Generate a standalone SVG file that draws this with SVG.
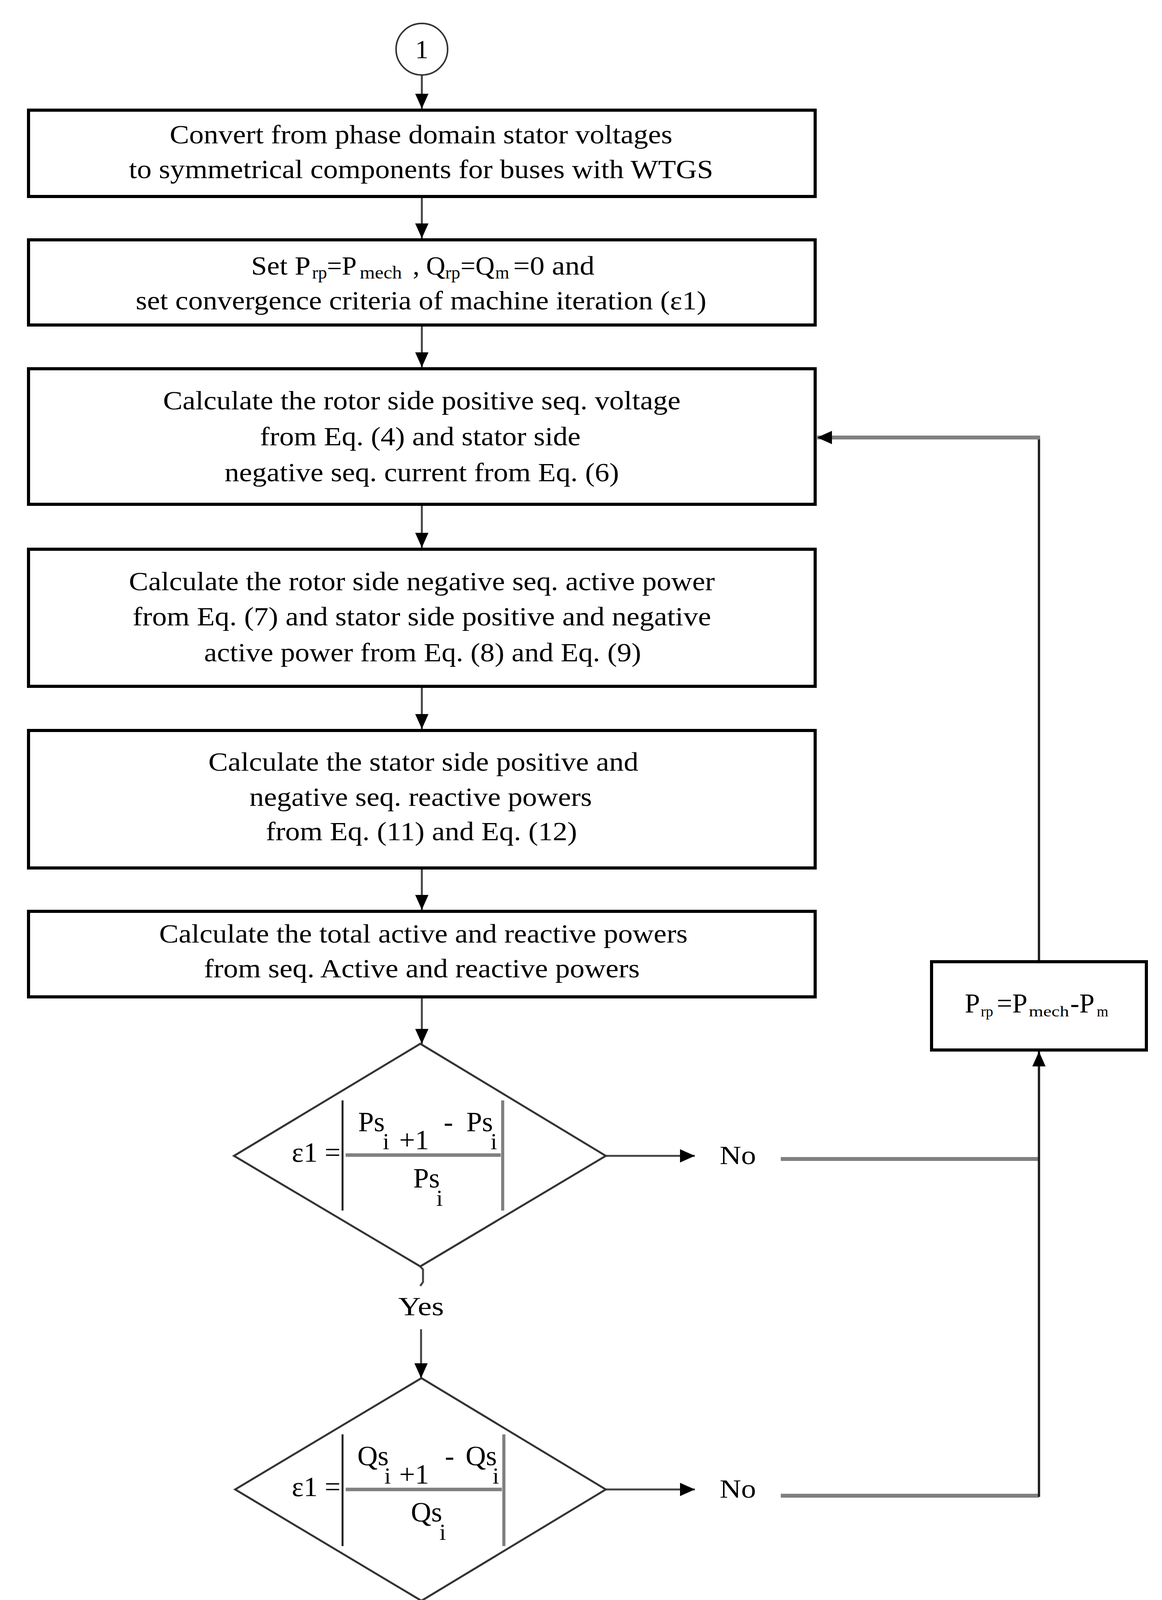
<svg xmlns="http://www.w3.org/2000/svg" width="2975" height="4846" viewBox="0 0 2975 4846">
<style>
text{font-family:"Liberation Serif","Times New Roman",serif;fill:#000}
.t{font-size:68px;text-anchor:middle}
.f{font-size:72px}
.fs{font-size:60px}
.sub{font-size:46px}
.sub2{font-size:38px}
.box{fill:#fff;stroke:#000;stroke-width:8}
.dia{fill:#fff;stroke:#333;stroke-width:5}
.circ{fill:#fff;stroke:#333;stroke-width:4}
.con{fill:none;stroke:#444;stroke-width:5}
.fb{fill:none;stroke:#808080;stroke-width:10}
.fv{fill:none;stroke:#222;stroke-width:6}
.bar{stroke:#222;stroke-width:5}
.bar2{stroke:#808080;stroke-width:8}
.frac{stroke:#808080;stroke-width:9}
</style>
<defs>
<marker id="ah" markerUnits="userSpaceOnUse" markerWidth="38" markerHeight="34" refX="38" refY="17" orient="auto">
<path d="M0,0 L38,17 L0,34 z" fill="#000"/>
</marker>
</defs>
<rect width="2975" height="4846" fill="#fff"/>

<g id="connectors">
<line class="con" x1="1080" y1="192" x2="1080" y2="278" marker-end="url(#ah)"/>
<line class="con" x1="1080" y1="503" x2="1080" y2="610" marker-end="url(#ah)"/>
<line class="con" x1="1080" y1="832" x2="1080" y2="940" marker-end="url(#ah)"/>
<line class="con" x1="1080" y1="1291" x2="1080" y2="1402" marker-end="url(#ah)"/>
<line class="con" x1="1080" y1="1757" x2="1080" y2="1866" marker-end="url(#ah)"/>
<line class="con" x1="1080" y1="2222" x2="1080" y2="2329" marker-end="url(#ah)"/>
<line class="con" x1="1080" y1="2552" x2="1080" y2="2672" marker-end="url(#ah)"/>
<polyline class="con" points="1076,3242 1083,3250 1083,3282 1076,3292"/>
<line class="con" x1="1078" y1="3403" x2="1078" y2="3528" marker-end="url(#ah)"/>
<line class="con" x1="1079" y1="4098" x2="1079" y2="4144"/>
<line class="con" x1="1079" y1="4254" x2="1079" y2="4365" marker-end="url(#ah)"/>
<line class="con" x1="1068" y1="4592" x2="1068" y2="4676" marker-end="url(#ah)"/>
<line class="con" stroke="#000" x1="1551" y1="2959" x2="1779" y2="2959" marker-end="url(#ah)"/>
<line class="con" stroke="#000" x1="1551" y1="3813" x2="1779" y2="3813" marker-end="url(#ah)"/>
<line class="fb" x1="1999" y1="2967" x2="2660" y2="2967"/>
<line class="fb" x1="1999" y1="3829" x2="2660" y2="3829"/>
<line class="fv" x1="2660" y1="3832" x2="2660" y2="2692" marker-end="url(#ah)"/>
<line class="fv" x1="2660" y1="2458" x2="2660" y2="1115"/>
<line class="fb" x1="2663" y1="1120" x2="2092" y2="1120" marker-end="url(#ah)"/>
</g>

<g id="start">
<circle class="circ" cx="1080" cy="126" r="66"/>
<text class="t" x="1080" y="149" font-size="70">1</text>
</g>

<g id="box1">
<rect class="box" x="73" y="282" width="2014" height="221"/>
<text class="t" x="1078" y="367" textLength="1287" lengthAdjust="spacingAndGlyphs">Convert from phase domain stator voltages</text>
<text class="t" x="1078" y="456" textLength="1496" lengthAdjust="spacingAndGlyphs">to symmetrical components for buses with WTGS</text>
</g>

<g id="box2">
<rect class="box" x="73" y="614" width="2014" height="218"/>
<text style="font-size:68px" y="703"><tspan x="643" textLength="152" lengthAdjust="spacingAndGlyphs">Set P</tspan><tspan class="sub" x="799" dy="10">rp</tspan><tspan x="837" dy="-10">=P</tspan><tspan class="sub" x="921" dy="10" textLength="108" lengthAdjust="spacingAndGlyphs">mech</tspan><tspan x="1040" dy="-10"> , Q</tspan><tspan class="sub" x="1140" dy="10">rp</tspan><tspan x="1179" dy="-10">=Q</tspan><tspan class="sub" x="1268" dy="10">m</tspan><tspan x="1314" dy="-10" textLength="208" lengthAdjust="spacingAndGlyphs">=0 and</tspan></text>
<text class="t" x="1078" y="792" textLength="1461" lengthAdjust="spacingAndGlyphs">set convergence criteria of machine iteration (ε1)</text>
</g>

<g id="box3">
<rect class="box" x="73" y="944" width="2014" height="347"/>
<text class="t" x="1080" y="1048" textLength="1325" lengthAdjust="spacingAndGlyphs">Calculate the rotor side positive seq. voltage</text>
<text class="t" x="1076" y="1140" textLength="821" lengthAdjust="spacingAndGlyphs">from Eq. (4) and stator side</text>
<text class="t" x="1080" y="1232" textLength="1010" lengthAdjust="spacingAndGlyphs">negative seq. current from Eq. (6)</text>
</g>

<g id="box4">
<rect class="box" x="73" y="1406" width="2014" height="351"/>
<text class="t" x="1080" y="1511" textLength="1500" lengthAdjust="spacingAndGlyphs">Calculate the rotor side negative seq. active power</text>
<text class="t" x="1080" y="1601" textLength="1481" lengthAdjust="spacingAndGlyphs">from Eq. (7) and stator side positive and negative</text>
<text class="t" x="1082" y="1693" textLength="1119" lengthAdjust="spacingAndGlyphs">active power from Eq. (8) and Eq. (9)</text>
</g>

<g id="box5">
<rect class="box" x="73" y="1870" width="2014" height="352"/>
<text class="t" x="1084" y="1973" textLength="1101" lengthAdjust="spacingAndGlyphs">Calculate the stator side positive and</text>
<text class="t" x="1077" y="2063" textLength="877" lengthAdjust="spacingAndGlyphs">negative seq. reactive powers</text>
<text class="t" x="1079" y="2151" textLength="797" lengthAdjust="spacingAndGlyphs">from Eq. (11) and Eq. (12)</text>
</g>

<g id="box6">
<rect class="box" x="73" y="2333" width="2014" height="219"/>
<text class="t" x="1084" y="2413" textLength="1353" lengthAdjust="spacingAndGlyphs">Calculate the total active and reactive powers</text>
<text class="t" x="1080" y="2502" textLength="1116" lengthAdjust="spacingAndGlyphs">from seq. Active and reactive powers</text>
</g>

<g id="decision1">
<polygon class="dia" points="1076,2672 1551,2959 1076,3242 599,2959"/>
<text class="f" x="747" y="2974">ε1 =</text>
<line class="bar" x1="877" y1="2817" x2="877" y2="3099"/>
<line class="bar2" x1="1287" y1="2817" x2="1287" y2="3099"/>
<line class="frac" x1="885" y1="2957" x2="1282" y2="2957"/>
<text class="f" x="917" y="2896">Ps</text>
<text class="fs" x="980" y="2942">i</text>
<text class="f" x="1022" y="2942">+1</text>
<text class="f" x="1136" y="2896">-</text>
<text class="f" x="1194" y="2896">Ps</text>
<text class="fs" x="1256" y="2942">i</text>
<text class="f" x="1058" y="3040">Ps</text>
<text class="fs" x="1117" y="3087">i</text>
</g>

<g id="decision2">
<polygon class="dia" points="1079,3528 1551,3813 1079,4098 602,3813"/>
<text class="f" x="747" y="3830">ε1 =</text>
<line class="bar" x1="877" y1="3672" x2="877" y2="3958"/>
<line class="bar2" x1="1290" y1="3672" x2="1290" y2="3958"/>
<line class="frac" x1="885" y1="3813" x2="1285" y2="3813"/>
<text class="f" x="915" y="3751">Qs</text>
<text class="fs" x="984" y="3798">i</text>
<text class="f" x="1022" y="3798">+1</text>
<text class="f" x="1139" y="3751">-</text>
<text class="f" x="1192" y="3751">Qs</text>
<text class="fs" x="1261" y="3798">i</text>
<text class="f" x="1052" y="3895">Qs</text>
<text class="fs" x="1125" y="3942">i</text>
</g>

<g id="labels">
<text class="t" x="1078" y="3367" font-size="70" textLength="117" lengthAdjust="spacingAndGlyphs">Yes</text>
<text class="t" x="1080" y="4219" font-size="70" textLength="117" lengthAdjust="spacingAndGlyphs">Yes</text>
<text class="t" x="1889" y="2980" font-size="70" textLength="93" lengthAdjust="spacingAndGlyphs">No</text>
<text class="t" x="1889" y="3834" font-size="70" textLength="93" lengthAdjust="spacingAndGlyphs">No</text>
</g>

<g id="update">
<rect class="box" x="2385" y="2462" width="550" height="226"/>
<text style="font-size:70px" y="2592"><tspan x="2470">P</tspan><tspan class="sub2" x="2511" dy="10">rp</tspan><tspan x="2552" dy="-10">=P</tspan><tspan class="sub2" x="2634" dy="10" textLength="103" lengthAdjust="spacingAndGlyphs">mech</tspan><tspan x="2740" dy="-10">-P</tspan><tspan class="sub2" x="2808" dy="10">m</tspan></text>
</g>

<g id="box7">
<rect class="box" x="60" y="4367" width="2013" height="225"/>
<text class="t" x="1068" y="4457" textLength="1168" lengthAdjust="spacingAndGlyphs">Convert from symmetrical components</text>
<text class="t" x="1066" y="4543" textLength="751" lengthAdjust="spacingAndGlyphs">to phase domain currents</text>
</g>

<g id="end">
<circle class="circ" cx="1067" cy="4744" r="67"/>
<text class="t" x="1067" y="4767" font-size="70">2</text>
</g>
</svg>
